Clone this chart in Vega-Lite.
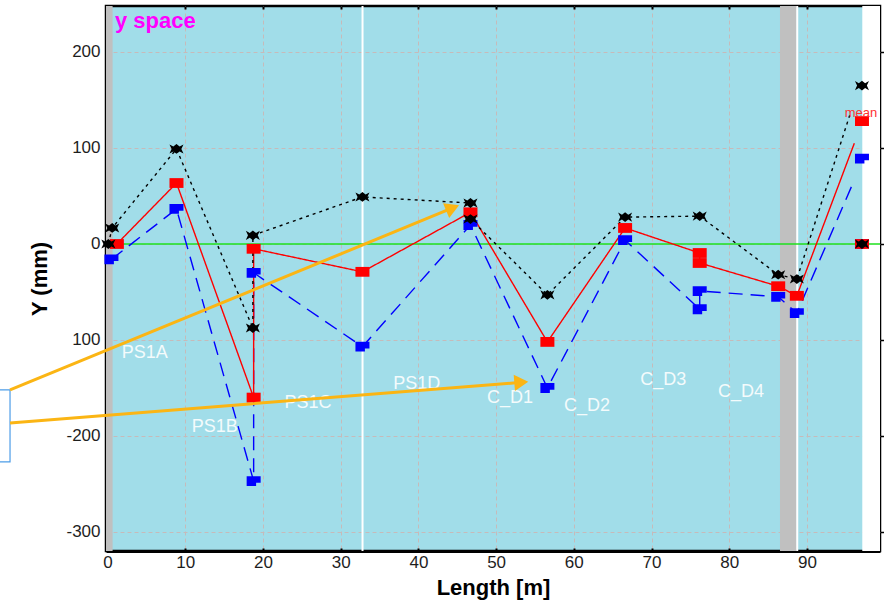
{
  "$schema": "https://vega.github.io/schema/vega-lite/v6.json",
  "width": 774,
  "height": 545,
  "autosize": {"type": "none"},
  "padding": {"left": 106, "top": 6, "right": 4, "bottom": 55},
  "background": "white",
  "datasets": {
    "bands": [
      {"x": -0.2, "x2": 0.65, "y": -319.8, "y2": 247.9},
      {"x": 86.53, "x2": 88.68, "y": -319.8, "y2": 247.9}
    ],
    "strip": [
      {"x": 97.12, "x2": 99.4, "y": -319.8, "y2": 247.9}
    ],
    "vlines": [
      {"x": 32.81, "y": -319.8, "y2": 247.9},
      {"x": 88.75, "y": -319.8, "y2": 247.9}
    ],
    "zero": [{"x": -0.2, "x2": 99.4, "y": 0}],
    "box": [{"x": -30, "x2": -12.55, "y": -152, "y2": -227}],
    "lines": [
      {"s": "min", "i": 0, "x": 0.5, "y": -16},
      {"s": "min", "i": 1, "x": 8.87, "y": 36.5},
      {"s": "min", "i": 2, "x": 18.8, "y": -247},
      {"s": "min", "i": 3, "x": 18.8, "y": -30},
      {"s": "min", "i": 4, "x": 32.8, "y": -107},
      {"s": "min", "i": 5, "x": 46.7, "y": 19.8},
      {"s": "min", "i": 6, "x": 56.6, "y": -150},
      {"s": "min", "i": 7, "x": 66.6, "y": 4},
      {"s": "min", "i": 8, "x": 76.2, "y": -68},
      {"s": "min", "i": 9, "x": 76.2, "y": -49},
      {"s": "min", "i": 10, "x": 86.3, "y": -55},
      {"s": "min", "i": 11, "x": 88.7, "y": -72},
      {"s": "min", "i": 12, "x": 95.9, "y": 63, "end": true},
      {"s": "mean", "i": 0, "x": 1.2, "y": 0},
      {"s": "mean", "i": 1, "x": 8.87, "y": 63.5},
      {"s": "mean", "i": 2, "x": 18.8, "y": -160},
      {"s": "mean", "i": 3, "x": 18.8, "y": -5},
      {"s": "mean", "i": 4, "x": 32.8, "y": -29},
      {"s": "mean", "i": 5, "x": 46.7, "y": 33},
      {"s": "mean", "i": 6, "x": 56.6, "y": -102},
      {"s": "mean", "i": 7, "x": 66.6, "y": 16.7},
      {"s": "mean", "i": 8, "x": 76.2, "y": -9.4},
      {"s": "mean", "i": 9, "x": 76.2, "y": -19.8},
      {"s": "mean", "i": 10, "x": 86.3, "y": -44},
      {"s": "mean", "i": 11, "x": 88.7, "y": -54},
      {"s": "mean", "i": 12, "x": 96.1, "y": 105, "end": true},
      {"s": "max", "i": 0, "x": 0.1, "y": 0},
      {"s": "max", "i": 1, "x": 0.6, "y": 16.7},
      {"s": "max", "i": 2, "x": 8.87, "y": 99},
      {"s": "max", "i": 3, "x": 18.7, "y": -87.5},
      {"s": "max", "i": 4, "x": 18.7, "y": 9},
      {"s": "max", "i": 5, "x": 32.8, "y": 49},
      {"s": "max", "i": 6, "x": 46.7, "y": 42.7},
      {"s": "max", "i": 7, "x": 46.7, "y": 26},
      {"s": "max", "i": 8, "x": 56.6, "y": -53},
      {"s": "max", "i": 9, "x": 66.6, "y": 28},
      {"s": "max", "i": 10, "x": 76.2, "y": 29},
      {"s": "max", "i": 11, "x": 86.3, "y": -32},
      {"s": "max", "i": 12, "x": 88.7, "y": -36.5},
      {"s": "max", "i": 13, "x": 95.5, "y": 134, "end": true}
    ],
    "column": [
      {"s": "min", "x": 97.08, "y": 89},
      {"s": "min", "x": 97.08, "y": 0},
      {"s": "mean", "x": 97.08, "y": 128},
      {"s": "mean", "x": 97.08, "y": 0},
      {"s": "max", "x": 97.08, "y": 165},
      {"s": "max", "x": 97.08, "y": 0}
    ],
    "labels": [
      {"t": "PS1A", "x": 4.8, "y": -113.5},
      {"t": "PS1B", "x": 13.8, "y": -190.6},
      {"t": "PS1C", "x": 25.8, "y": -165.6},
      {"t": "PS1D", "x": 39.8, "y": -145.8},
      {"t": "C_D1", "x": 51.8, "y": -160.4},
      {"t": "C_D2", "x": 61.7, "y": -168.8},
      {"t": "C_D3", "x": 71.5, "y": -141.7},
      {"t": "C_D4", "x": 81.5, "y": -154.2}
    ],
    "arrows": [
      {"x": -12.55, "y": -152, "x2": 44.4, "y2": 37.5},
      {"x": -12.55, "y": -186.5, "x2": 53.24, "y2": -144.1}
    ],
    "head1": [{"x": 44.4, "y": 37.5}],
    "head2": [{"x": 53.24, "y": -144.1}],
    "title": [{"t": "y space", "x": 0.96, "y": 225}],
    "mean": [{"t": "mean", "x": 96.95, "y": 136.5}],
    "ticks": [{"x": 0, "y": 0}]
  },
  "layer": [
    {
      "encoding": {
        "x": {
          "field": "x", "type": "quantitative",
          "scale": {"domain": [-0.2, 99.4], "nice": false, "zero": false},
          "axis": {
            "orient": "bottom",
            "values": [0, 10, 20, 30, 40, 50, 60, 70, 80, 90],
            "title": "Length [m]",
            "titleFontSize": 22, "titleFontWeight": "bold", "titleColor": "#000000", "titlePadding": 7,
            "labelFontSize": 17, "labelColor": "#1e1e1e", "labelPadding": 6, "labelFlush": false, "labelOverlap": false,
            "domainColor": "#000000", "domainWidth": 3,
            "ticks": true, "tickColor": "#000000", "tickWidth": 2, "tickSize": -3,
            "grid": true, "gridColor": "#c6baba", "gridDash": [4, 3], "gridWidth": 1
          }
        },
        "y": {
          "field": "y", "type": "quantitative",
          "scale": {"domain": [-319.8, 247.9], "nice": false, "zero": false},
          "axis": {
            "orient": "left",
            "values": [-300, -200, -100, 0, 100, 200],
            "labelExpr": "datum.value == -100 ? '100' : toString(datum.value)",
            "title": "Y (mm)",
            "titleFontSize": 22, "titleFontWeight": "bold", "titleColor": "#000000", "titlePadding": 14,
            "labelFontSize": 17, "labelColor": "#1e1e1e", "labelPadding": 9,
            "domainColor": "#000000", "domainWidth": 3,
            "ticks": true, "tickColor": "#000000", "tickWidth": 2, "tickSize": -3,
            "grid": true, "gridColor": "#c6baba", "gridDash": [4, 3], "gridWidth": 1
          }
        }
      },
      "layer": [
        {
          "data": {"name": "bands"},
          "mark": {"type": "rect", "fill": "#c0c0c0", "clip": true},
          "encoding": {"x2": {"field": "x2"}, "y2": {"field": "y2"}}
        },
        {
          "data": {"name": "strip"},
          "mark": {"type": "rect", "fill": "#ffffff", "clip": true},
          "encoding": {"x2": {"field": "x2"}, "y2": {"field": "y2"}}
        },
        {
          "data": {"name": "vlines"},
          "mark": {"type": "rule", "color": "#ffffff", "strokeWidth": 2, "clip": true},
          "encoding": {"y2": {"field": "y2"}}
        },
        {
          "data": {"name": "zero"},
          "mark": {"type": "rule", "color": "#1ee01e", "strokeWidth": 1.6},
          "encoding": {"x2": {"field": "x2"}}
        },
        {
          "data": {"name": "box"},
          "mark": {"type": "rect", "fill": null, "stroke": "#4d9de8", "strokeWidth": 1.2, "clip": false},
          "encoding": {"x2": {"field": "x2"}, "y2": {"field": "y2"}}
        },
        {
          "data": {"name": "lines"},
          "mark": {"type": "line", "strokeWidth": 1.4},
          "encoding": {
            "color": {"field": "s", "type": "nominal", "legend": null,
              "scale": {"domain": ["min", "mean", "max"], "range": ["#0000ff", "#ff0000", "#000000"]}},
            "strokeDash": {"field": "s", "type": "nominal", "legend": null,
              "scale": {"domain": ["min", "mean", "max"], "range": [[14, 8], [1, 0], [3, 4]]}},
            "order": {"field": "i", "type": "quantitative"}
          }
        },
        {
          "data": {"name": "lines"},
          "transform": [{"filter": "!datum.end"}],
          "mark": {"type": "point", "filled": true, "opacity": 1, "size": 196},
          "encoding": {
            "color": {"field": "s", "type": "nominal", "legend": null,
              "scale": {"domain": ["min", "mean", "max"], "range": ["#0000ff", "#ff0000", "#000000"]}},
            "shape": {"field": "s", "type": "nominal", "legend": null,
              "scale": {"domain": ["min", "mean", "max"], "range": [
                "M-1,-0.7L1,-0.7L1,0.25L0.35,0.25L0.35,0.7L-1,0.7Z",
                "M-1,-0.7L1,-0.7L1,0.7L-1,0.7Z",
                "M-1,-0.65L-0.45,-0.35L0,-0.7L0.45,-0.35L1,-0.65L0.7,0L1,0.65L0.45,0.35L0,0.7L-0.45,0.35L-1,0.65L-0.7,0Z"
              ]}}
          }
        },
        {
          "data": {"name": "column"},
          "mark": {"type": "point", "filled": true, "opacity": 1, "size": 196},
          "encoding": {
            "color": {"field": "s", "type": "nominal", "legend": null,
              "scale": {"domain": ["min", "mean", "max"], "range": ["#0000ff", "#ff0000", "#000000"]}},
            "shape": {"field": "s", "type": "nominal", "legend": null,
              "scale": {"domain": ["min", "mean", "max"], "range": [
                "M-1,-0.7L1,-0.7L1,0.25L0.35,0.25L0.35,0.7L-1,0.7Z",
                "M-1,-0.7L1,-0.7L1,0.7L-1,0.7Z",
                "M-1,-0.65L-0.45,-0.35L0,-0.7L0.45,-0.35L1,-0.65L0.7,0L1,0.65L0.45,0.35L0,0.7L-0.45,0.35L-1,0.65L-0.7,0Z"
              ]}}
          }
        },
        {
          "data": {"name": "labels"},
          "mark": {"type": "text", "color": "#f4fbfc", "fontSize": 18, "align": "center", "baseline": "middle", "font": "Liberation Sans"},
          "encoding": {"text": {"field": "t"}}
        },
        {
          "data": {"name": "arrows"},
          "mark": {"type": "rule", "color": "#fbb514", "strokeWidth": 3, "clip": false},
          "encoding": {"x2": {"field": "x2"}, "y2": {"field": "y2"}}
        },
        {
          "data": {"name": "head1"},
          "mark": {"type": "point", "shape": "triangle-right", "filled": true, "opacity": 1, "color": "#fbb514", "size": 260, "angle": 337.7, "clip": false}
        },
        {
          "data": {"name": "head2"},
          "mark": {"type": "point", "shape": "triangle-right", "filled": true, "opacity": 1, "color": "#fbb514", "size": 260, "angle": 355.5, "clip": false}
        },
        {
          "data": {"name": "title"},
          "mark": {"type": "text", "color": "#ff00ff", "fontSize": 22, "fontWeight": "bold", "align": "left", "baseline": "alphabetic", "font": "Liberation Sans"},
          "encoding": {"text": {"field": "t"}}
        },
        {
          "data": {"name": "mean"},
          "mark": {"type": "text", "color": "#ff3030", "fontSize": 13, "align": "center", "baseline": "middle", "font": "Liberation Sans", "clip": false},
          "encoding": {"text": {"field": "t"}}
        }
      ]
    },
    {
      "data": {"name": "ticks"},
      "mark": {"type": "point", "opacity": 0},
      "encoding": {
        "x": {
          "field": "x", "type": "quantitative",
          "scale": {"domain": [-0.2, 99.4], "nice": false, "zero": false},
          "axis": {"orient": "top", "values": [0, 10, 20, 30, 40, 50, 60, 70, 80, 90], "labels": false, "title": null,
            "grid": false, "domain": false, "ticks": true, "tickColor": "#000000", "tickWidth": 2, "tickSize": -3}
        },
        "y": {
          "field": "y", "type": "quantitative",
          "scale": {"domain": [-319.8, 247.9], "nice": false, "zero": false},
          "axis": {"orient": "right", "values": [-300, -200, -100, 0, 100, 200], "labels": false, "title": null,
            "grid": false, "domain": false, "ticks": true, "tickColor": "#000000", "tickWidth": 1.5, "tickSize": 4}
        }
      }
    }
  ],
  "resolve": {"axis": {"x": "independent", "y": "independent"}},
  "config": {
    "font": "Liberation Sans",
    "view": {"fill": "#a1dde9", "stroke": "#000000", "strokeWidth": 2.5}
  }
}
